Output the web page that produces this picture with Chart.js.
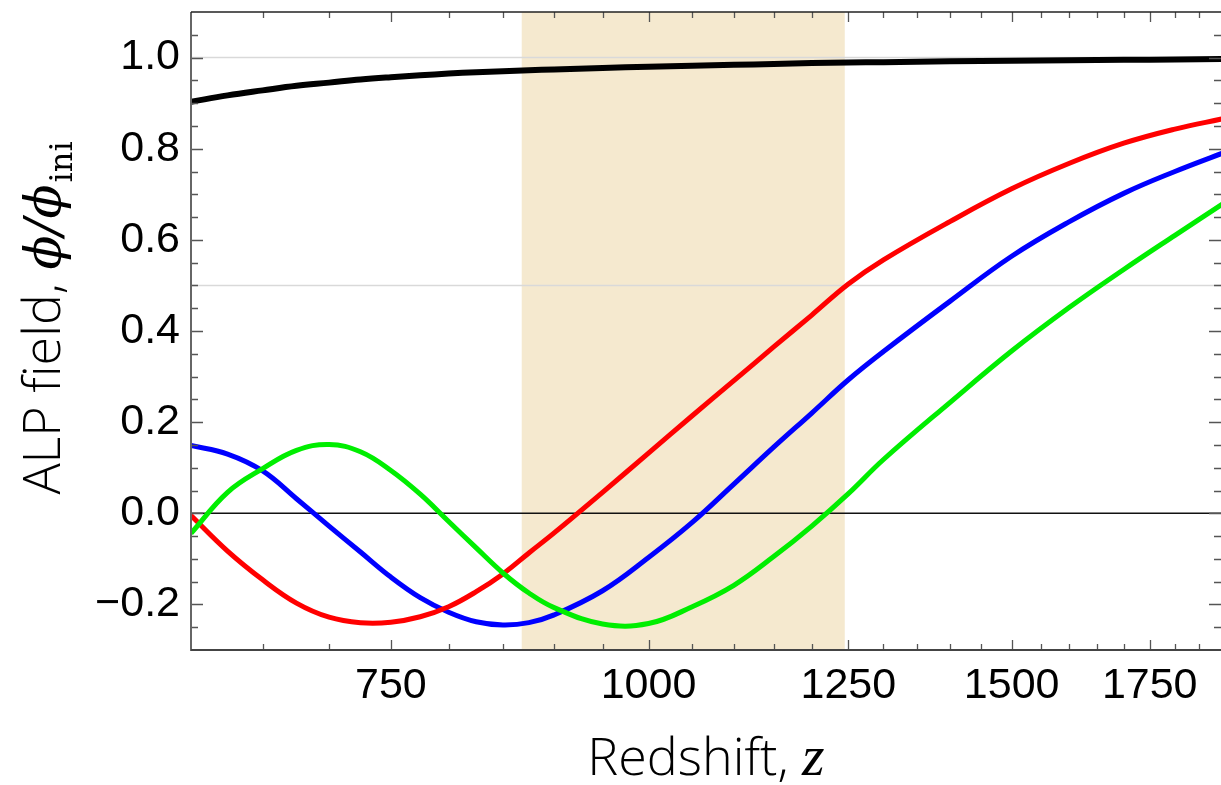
<!DOCTYPE html>
<html lang="en">
<head>
<meta charset="UTF-8">
<title>ALP field vs redshift</title>
<style>
  html, body { margin: 0; padding: 0; background: #fff; }
  #wrap { width: 1221px; height: 785px; }
</style>
</head>
<body>
<div id="wrap"><canvas id="alpChart" width="1221" height="785"></canvas></div>
<script src="https://cdn.jsdelivr.net/npm/chart.js"></script>
<script>
  // axis ranges and ticks
  const zRange = [600, 1895];
  const phiRange = [-0.3, 1.1];
  const zMajor = [750, 1000, 1250, 1500, 1750];
  const zMinor = [650, 700, 800, 850, 900, 950, 1050, 1100, 1150, 1200, 1300, 1350,
                  1400, 1450, 1550, 1600, 1650, 1700, 1800, 1850];
  const phiMajor = [-0.2, 0, 0.2, 0.4, 0.6, 0.8, 1.0];
  const phiMinor = [-0.25, -0.15, -0.1, -0.05, 0.05, 0.1, 0.15, 0.25, 0.3, 0.35, 0.45,
                    0.5, 0.55, 0.65, 0.7, 0.75, 0.85, 0.9, 0.95, 1.05];
  const phiGrid = [0.5, 1.0];
  const recombination = [868, 1245];

  // field evolution phi / phi_ini, sampled in redshift
  const redshift = [600, 625, 650, 675, 700, 725, 750, 775, 800, 825, 850, 875, 900, 950,
                    1000, 1050, 1100, 1150, 1200, 1250, 1300, 1400, 1500, 1600, 1700, 1800, 1900];
  const phiBlack = [0.903, 0.917, 0.928, 0.938, 0.945, 0.952, 0.957, 0.961, 0.965, 0.968, 0.970, 0.972, 0.974, 0.977,
                    0.980, 0.982, 0.984, 0.986, 0.988, 0.989, 0.990, 0.992, 0.993, 0.994, 0.995, 0.996, 0.997];
  const phiRed   = [-0.005, -0.083, -0.146, -0.197, -0.228, -0.240, -0.239, -0.227, -0.205, -0.172, -0.133, -0.087, -0.043, 0.046,
                    0.132, 0.214, 0.291, 0.365, 0.435, 0.503, 0.556, 0.640, 0.712, 0.768, 0.812, 0.843, 0.866];
  const phiBlue  = [0.149, 0.130, 0.093, 0.032, -0.028, -0.085, -0.140, -0.185, -0.217, -0.238, -0.245, -0.240, -0.223, -0.170,
                    -0.097, -0.020, 0.064, 0.145, 0.220, 0.293, 0.355, 0.465, 0.564, 0.640, 0.702, 0.750, 0.791];
  const phiGreen = [-0.044, 0.046, 0.098, 0.138, 0.151, 0.135, 0.094, 0.042, -0.018, -0.076, -0.131, -0.175, -0.207, -0.243,
                    -0.242, -0.205, -0.158, -0.095, -0.028, 0.043, 0.118, 0.243, 0.356, 0.452, 0.535, 0.610, 0.680];

  const line = (label, ys, color, width, order) => ({
    label, data: redshift.map((z, i) => ({ x: z, y: ys[i] })),
    borderColor: color, borderWidth: width,
    pointRadius: 0, fill: false, tension: 0.4, order
  });

  const sansLight = "300 52px 'Open Sans', 'Noto Sans', sans-serif";
  const phiFont = "italic 50px 'DejaVu Serif', serif";
  const zFont = "italic 58px 'Liberation Serif', serif";

  // band, grid lines, inward ticks, frame and axis titles
  const decor = {
    id: 'decor',
    beforeDatasetsDraw(chart) {
      const { ctx, chartArea: a, scales: { x, y } } = chart;
      ctx.save();
      const x0 = x.getPixelForValue(recombination[0]);
      const x1 = x.getPixelForValue(recombination[1]);
      ctx.fillStyle = '#f5e9cf';
      ctx.fillRect(x0, a.top, x1 - x0, a.bottom - a.top);

      ctx.strokeStyle = '#d9d9d9';
      ctx.lineWidth = 1.5;
      phiGrid.forEach(v => {
        const py = y.getPixelForValue(v);
        ctx.beginPath(); ctx.moveTo(a.left, py); ctx.lineTo(a.right, py); ctx.stroke();
      });
      ctx.strokeStyle = '#111';
      ctx.lineWidth = 1.4;
      const p0 = y.getPixelForValue(0);
      ctx.beginPath(); ctx.moveTo(a.left, p0); ctx.lineTo(a.right, p0); ctx.stroke();
      ctx.restore();
    },
    afterDatasetsDraw(chart) {
      const { ctx, chartArea: a, scales: { x, y } } = chart;
      ctx.save();
      ctx.strokeStyle = '#555';
      ctx.lineWidth = 1.3;
      const xt = (vals, len) => vals.forEach(v => {
        const px = Math.round(x.getPixelForValue(v)) + 0.5;
        ctx.beginPath();
        ctx.moveTo(px, a.bottom); ctx.lineTo(px, a.bottom - len);
        ctx.moveTo(px, a.top); ctx.lineTo(px, a.top + len);
        ctx.stroke();
      });
      const yt = (vals, len) => vals.forEach(v => {
        const py = Math.round(y.getPixelForValue(v)) + 0.5;
        ctx.beginPath();
        ctx.moveTo(a.left, py); ctx.lineTo(a.left + len, py);
        ctx.moveTo(a.right, py); ctx.lineTo(a.right - len, py);
        ctx.stroke();
      });
      xt(zMajor, 10); xt(zMinor, 6);
      yt(phiMajor, 12); yt(phiMinor, 7);

      ctx.lineWidth = 2;
      ctx.strokeStyle = '#666';
      ctx.beginPath(); ctx.moveTo(a.left, a.top); ctx.lineTo(a.left, a.bottom + 1); ctx.stroke();
      ctx.strokeStyle = '#444';
      ctx.beginPath(); ctx.moveTo(a.left, a.bottom); ctx.lineTo(a.right, a.bottom); ctx.stroke();
      ctx.strokeStyle = '#222';
      ctx.lineWidth = 1.5;
      ctx.beginPath(); ctx.moveTo(a.left, a.top); ctx.lineTo(a.right, a.top); ctx.stroke();
      ctx.restore();
    },
    afterDraw(chart) {
      const { ctx, chartArea: a } = chart;
      ctx.save();
      ctx.fillStyle = '#000';
      ctx.textBaseline = 'alphabetic';
      ctx.textAlign = 'left';

      // x title: Redshift, z
      ctx.font = sansLight;
      const t1 = 'Redshift, ';
      const w1 = ctx.measureText(t1).width;
      ctx.font = zFont;
      const w2 = ctx.measureText('z').width;
      const sx = (a.left + a.right) / 2 - (w1 + w2) / 2;
      ctx.font = sansLight;
      ctx.fillText(t1, sx, 775);
      ctx.font = zFont;
      ctx.fillText('z', sx + w1, 775);

      // y title: ALP field, phi/phi_ini
      const s1 = 'ALP field, ';
      const s2 = '\u03D5/\u03D5';
      const s3 = 'ini';
      const subFont = "32px 'DejaVu Serif', serif";
      ctx.font = sansLight; const l1 = ctx.measureText(s1).width;
      ctx.font = phiFont; const l2 = ctx.measureText(s2).width;
      ctx.font = subFont; const l3 = ctx.measureText(s3).width;
      const total = l1 + l2 + l3 + 2;
      ctx.translate(60, 318 + total / 2);
      ctx.rotate(-Math.PI / 2);
      ctx.font = sansLight; ctx.fillText(s1, 0, 0);
      ctx.font = phiFont; ctx.fillText(s2, l1, 0);
      ctx.font = subFont; ctx.fillText(s3, l1 + l2 + 2, 12);
      ctx.restore();
    }
  };

  const tickFont = { family: "'Liberation Sans', Arial, sans-serif", size: 43 };

  new Chart(document.getElementById('alpChart'), {
    type: 'line',
    data: {
      datasets: [
        line('green', phiGreen, '#00ee00', 5, 1),
        line('red', phiRed, '#ff0000', 5, 2),
        line('blue', phiBlue, '#0000ff', 5, 3),
        line('black', phiBlack, '#000000', 6, 4)
      ]
    },
    options: {
      responsive: false,
      animation: false,
      layout: { padding: { top: 12, right: 0, bottom: 0, left: 0 } },
      plugins: { legend: { display: false }, tooltip: { enabled: false } },
      scales: {
        x: {
          type: 'logarithmic',
          min: zRange[0],
          max: zRange[1],
          bounds: 'data',
          afterBuildTicks: s => { s.ticks = zMajor.map(v => ({ value: v })); },
          afterFit: s => { s.height = 135; s.paddingLeft = 0; s.paddingRight = 0; },
          grid: { display: false, drawTicks: false },
          border: { display: false },
          ticks: {
            autoSkip: false, maxRotation: 0, minRotation: 0, padding: 10,
            color: '#000', font: tickFont,
            callback: v => String(v)
          }
        },
        y: {
          min: phiRange[0],
          max: phiRange[1],
          afterBuildTicks: s => { s.ticks = phiMajor.map(v => ({ value: v })); },
          afterFit: s => { s.width = 191; s.paddingTop = 0; s.paddingBottom = 0; },
          grid: { display: false, drawTicks: false },
          border: { display: false },
          ticks: {
            padding: 11, color: '#000', font: tickFont,
            callback: v => Number(v).toFixed(1).replace('-', '\u2212')
          }
        }
      }
    },
    plugins: [decor]
  });
</script>
</body>
</html>
